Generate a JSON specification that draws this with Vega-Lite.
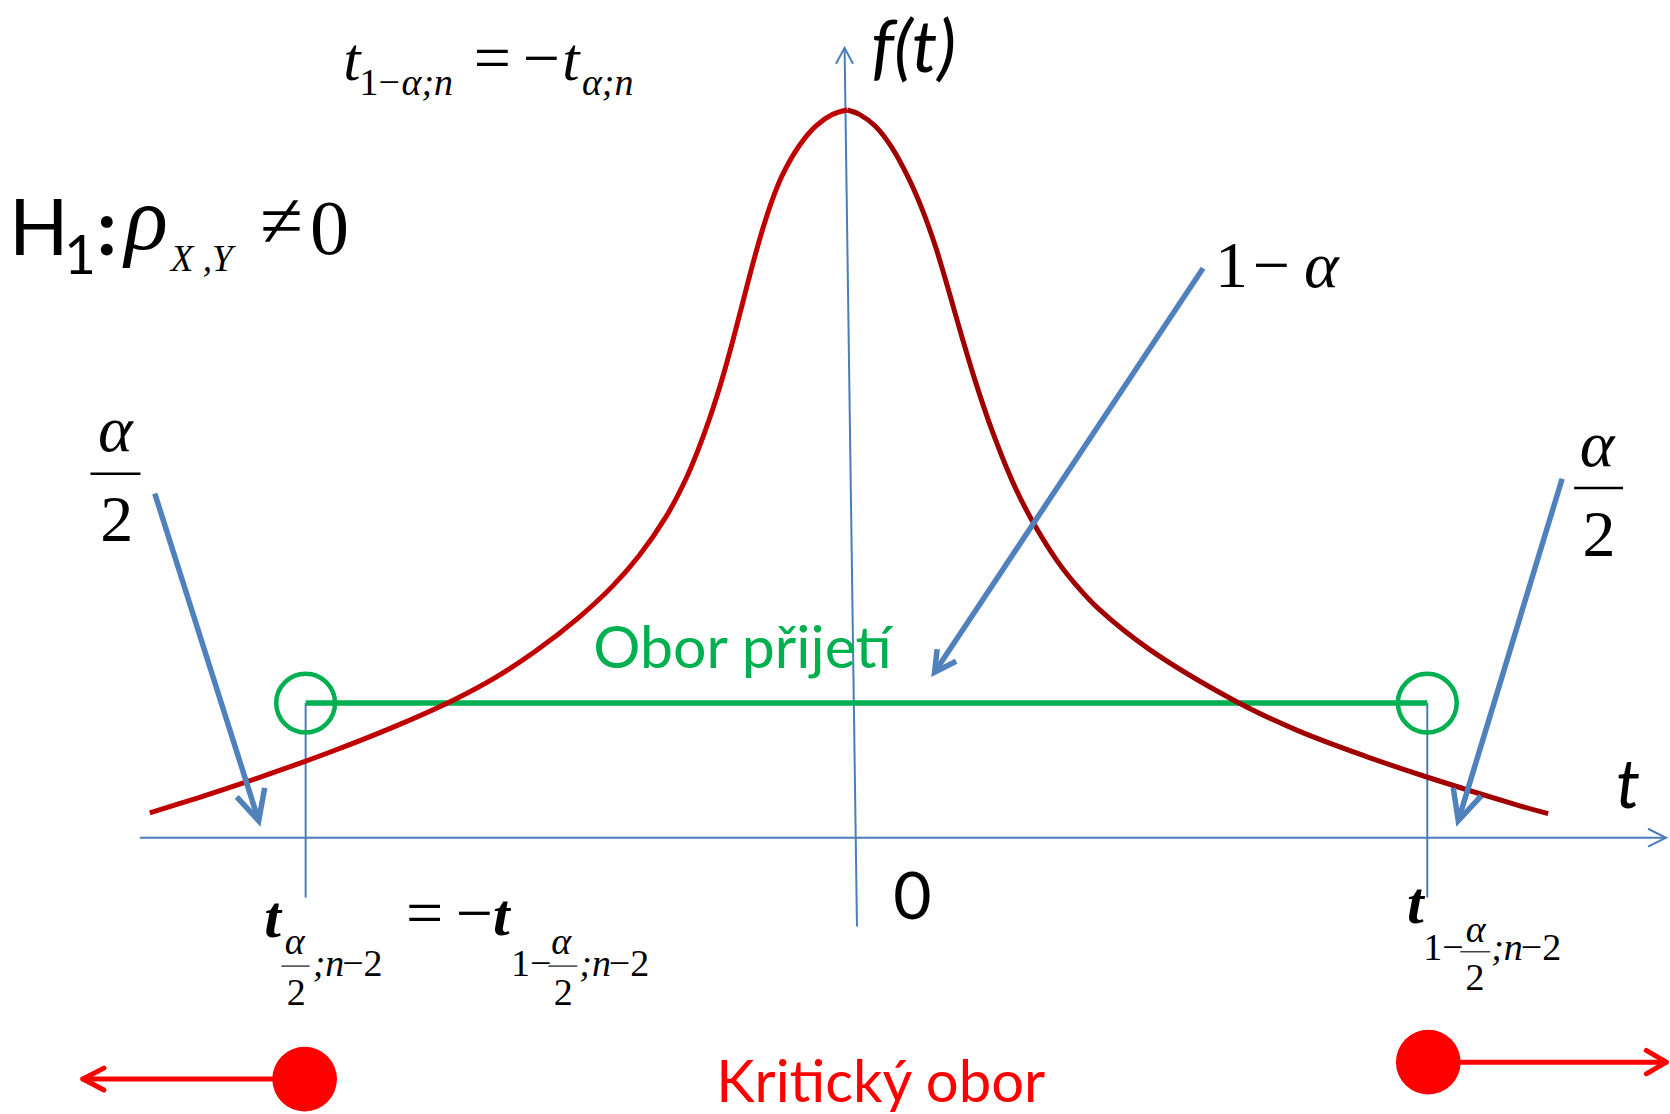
{
  "$schema": "https://vega.github.io/schema/vega-lite/v6.json",
  "width": 1670,
  "height": 1114,
  "autosize": {"type": "fit", "contains": "padding"},
  "padding": 0,
  "background": "white",
  "config": {"view": {"stroke": null}},
  "encoding": {
    "x": {"field": "x", "type": "quantitative", "scale": {"domain": [-8.57, 8.13], "nice": false, "zero": false}, "axis": null},
    "y": {"field": "y", "type": "quantitative", "scale": {"domain": [-2.74, 8.4], "nice": false, "zero": false}, "axis": null}
  },
  "layer": [
    {
      "description": "t and f(t) axes, their arrow heads and the two critical-value drop lines",
      "data": {"values": [
        {"id": "tAxis", "o": 0, "x": -7.17, "y": 0}, {"id": "tAxis", "o": 1, "x": 8.11, "y": 0},
        {"id": "tHead", "o": 0, "x": 7.93, "y": 0.09}, {"id": "tHead", "o": 1, "x": 8.11, "y": 0}, {"id": "tHead", "o": 2, "x": 7.93, "y": -0.09},
        {"id": "fAxis", "o": 0, "x": 0.01, "y": -0.89}, {"id": "fAxis", "o": 1, "x": -0.114, "y": 7.92},
        {"id": "fHead", "o": 0, "x": -0.2, "y": 7.76}, {"id": "fHead", "o": 1, "x": -0.114, "y": 7.92}, {"id": "fHead", "o": 2, "x": -0.03, "y": 7.76},
        {"id": "lowCrit", "o": 0, "x": -5.51, "y": 1.35}, {"id": "lowCrit", "o": 1, "x": -5.51, "y": -0.6},
        {"id": "highCrit", "o": 0, "x": 5.72, "y": 1.35}, {"id": "highCrit", "o": 1, "x": 5.72, "y": -0.6}
      ]},
      "mark": {"type": "line", "color": "#4A7EBB", "strokeWidth": 2},
      "encoding": {"detail": {"field": "id"}, "order": {"field": "o", "type": "quantitative"}}
    },
    {
      "description": "acceptance region",
      "data": {"values": [{"o": 0, "x": -5.51, "y": 1.35}, {"o": 1, "x": 5.72, "y": 1.35}]},
      "mark": {"type": "line", "color": "#00B050", "strokeWidth": 5.5},
      "encoding": {"order": {"field": "o", "type": "quantitative"}}
    },
    {
      "description": "density curve f(t), drawn as two halves meeting at the peak",
      "data": {"values": [
        {"half": "left", "x": -7.07, "y": 0.25}, {"half": "left", "x": -6.603, "y": 0.395}, {"half": "left", "x": -6.103, "y": 0.56},
        {"half": "left", "x": -5.537, "y": 0.758}, {"half": "left", "x": -5.203, "y": 0.882}, {"half": "left", "x": -4.603, "y": 1.122},
        {"half": "left", "x": -4.037, "y": 1.377}, {"half": "left", "x": -3.603, "y": 1.611}, {"half": "left", "x": -3.203, "y": 1.875},
        {"half": "left", "x": -2.77, "y": 2.213}, {"half": "left", "x": -2.437, "y": 2.523}, {"half": "left", "x": -2.17, "y": 2.83},
        {"half": "left", "x": -1.903, "y": 3.217}, {"half": "left", "x": -1.703, "y": 3.597}, {"half": "left", "x": -1.57, "y": 3.917},
        {"half": "left", "x": -1.437, "y": 4.289}, {"half": "left", "x": -1.337, "y": 4.609}, {"half": "left", "x": -1.237, "y": 4.969},
        {"half": "left", "x": -1.137, "y": 5.354}, {"half": "left", "x": -1.037, "y": 5.739}, {"half": "left", "x": -0.937, "y": 6.094},
        {"half": "left", "x": -0.837, "y": 6.399}, {"half": "left", "x": -0.737, "y": 6.644}, {"half": "left", "x": -0.57, "y": 6.936},
        {"half": "left", "x": -0.403, "y": 7.136}, {"half": "left", "x": -0.237, "y": 7.252}, {"half": "left", "x": -0.087, "y": 7.297},
        {"half": "right", "x": -0.087, "y": 7.297}, {"half": "right", "x": 0.03, "y": 7.256}, {"half": "right", "x": 0.197, "y": 7.131},
        {"half": "right", "x": 0.363, "y": 6.915}, {"half": "right", "x": 0.53, "y": 6.606}, {"half": "right", "x": 0.663, "y": 6.3},
        {"half": "right", "x": 0.797, "y": 5.925}, {"half": "right", "x": 0.93, "y": 5.479}, {"half": "right", "x": 1.063, "y": 5.013},
        {"half": "right", "x": 1.197, "y": 4.571}, {"half": "right", "x": 1.363, "y": 4.081}, {"half": "right", "x": 1.563, "y": 3.581},
        {"half": "right", "x": 1.763, "y": 3.181}, {"half": "right", "x": 2.03, "y": 2.754}, {"half": "right", "x": 2.23, "y": 2.504},
        {"half": "right", "x": 2.43, "y": 2.294}, {"half": "right", "x": 2.93, "y": 1.894}, {"half": "right", "x": 3.83, "y": 1.354},
        {"half": "right", "x": 4.43, "y": 1.072}, {"half": "right", "x": 5.097, "y": 0.819}, {"half": "right", "x": 5.73, "y": 0.604},
        {"half": "right", "x": 6.63, "y": 0.325}, {"half": "right", "x": 6.93, "y": 0.241}
      ]},
      "mark": {"type": "line", "strokeWidth": 5, "interpolate": "catmull-rom"},
      "encoding": {
        "color": {"field": "half", "type": "nominal", "scale": {"domain": ["left", "right"], "range": ["#C00000", "#A00000"]}, "legend": null}
      }
    },
    {
      "description": "pointer arrows for the tail areas and the central area",
      "data": {"values": [
        {"id": "L", "o": 0, "x": -7.02, "y": 3.45}, {"id": "L", "o": 1, "x": -5.98, "y": 0.17},
        {"id": "Lh", "o": 0, "x": -6.2, "y": 0.41}, {"id": "Lh", "o": 1, "x": -5.98, "y": 0.17}, {"id": "Lh", "o": 2, "x": -5.92, "y": 0.5},
        {"id": "R", "o": 0, "x": 7.07, "y": 3.6}, {"id": "R", "o": 1, "x": 6.03, "y": 0.17},
        {"id": "Rh", "o": 0, "x": 5.98, "y": 0.5}, {"id": "Rh", "o": 1, "x": 6.03, "y": 0.17}, {"id": "Rh", "o": 2, "x": 6.26, "y": 0.42},
        {"id": "M", "o": 0, "x": 3.475, "y": 5.71}, {"id": "M", "o": 1, "x": 0.787, "y": 1.66},
        {"id": "Mh", "o": 0, "x": 0.813, "y": 1.89}, {"id": "Mh", "o": 1, "x": 0.787, "y": 1.66}, {"id": "Mh", "o": 2, "x": 1.003, "y": 1.77}
      ]},
      "mark": {"type": "line", "color": "#4F81BD", "strokeWidth": 5.5, "strokeJoin": "miter"},
      "encoding": {"detail": {"field": "id"}, "order": {"field": "o", "type": "quantitative"}}
    },
    {
      "description": "critical values on the acceptance region",
      "data": {"values": [{"x": -5.51, "y": 1.35}, {"x": 5.72, "y": 1.35}]},
      "mark": {"type": "point", "shape": "circle", "filled": false, "size": 3460, "strokeWidth": 4.5, "color": "#00B050", "opacity": 1}
    },
    {
      "description": "critical region rays",
      "data": {"values": [
        {"id": "l", "o": 0, "x": -7.74, "y": -2.42}, {"id": "l", "o": 1, "x": -5.52, "y": -2.42},
        {"id": "lh", "o": 0, "x": -7.53, "y": -2.31}, {"id": "lh", "o": 1, "x": -7.74, "y": -2.42}, {"id": "lh", "o": 2, "x": -7.53, "y": -2.53},
        {"id": "r", "o": 0, "x": 5.73, "y": -2.25}, {"id": "r", "o": 1, "x": 8.11, "y": -2.25},
        {"id": "rh", "o": 0, "x": 7.913, "y": -2.133}, {"id": "rh", "o": 1, "x": 8.113, "y": -2.25}, {"id": "rh", "o": 2, "x": 7.913, "y": -2.367}
      ]},
      "mark": {"type": "line", "color": "#FF0000", "strokeWidth": 5, "strokeCap": "round", "strokeJoin": "round"},
      "encoding": {"detail": {"field": "id"}, "order": {"field": "o", "type": "quantitative"}}
    },
    {
      "data": {"values": [{"x": -5.52, "y": -2.42}, {"x": 5.73, "y": -2.25}]},
      "mark": {"type": "point", "shape": "circle", "filled": true, "size": 4186, "color": "#FF0000", "opacity": 1}
    },
    {
      "description": "fraction bars of alpha/2",
      "data": {"values": [
        {"id": "a", "x": -7.664, "y": 3.65}, {"id": "a", "x": -7.164, "y": 3.65},
        {"id": "b", "x": 7.19, "y": 3.507}, {"id": "b", "x": 7.68, "y": 3.507}
      ]},
      "mark": {"type": "line", "color": "#000000", "strokeWidth": 2.5},
      "encoding": {"detail": {"field": "id"}}
    },
    {
      "data": {"values": [
        {"id": "a", "x": -5.753, "y": -1.287}, {"id": "a", "x": -5.47, "y": -1.287},
        {"id": "b", "x": -3.08, "y": -1.287}, {"id": "b", "x": -2.79, "y": -1.287},
        {"id": "c", "x": 6.05, "y": -1.143}, {"id": "c", "x": 6.35, "y": -1.143}
      ]},
      "mark": {"type": "line", "color": "#404040", "strokeWidth": 1.5},
      "encoding": {"detail": {"field": "id"}}
    },
    {
      "data": {"values": [{"x": -5.133, "y": 7.6, "s": "t"}, {"x": -2.94, "y": 7.6, "s": "t"}]},
      "mark": {"type": "text", "font": "Liberation Serif", "fontStyle": "italic", "fontSize": 62, "align": "left", "baseline": "alphabetic", "color": "#000"},
      "encoding": {"text": {"field": "s"}}
    },
    {
      "data": {"values": [
        {"x": -3.64, "y": 7.6, "s": "="}, {"x": -3.15, "y": 7.6, "s": "−"},
        {"x": -4.32, "y": -0.98, "s": "="}, {"x": -3.82, "y": -0.98, "s": "−"}
      ]},
      "mark": {"type": "text", "font": "Liberation Serif", "fontSize": 66, "align": "center", "baseline": "alphabetic", "color": "#000"},
      "encoding": {"text": {"field": "s"}}
    },
    {
      "data": {"values": [{"x": -5.84, "y": -1.0, "s": "t"}, {"x": -3.55, "y": -0.98, "s": "t"}, {"x": 5.6, "y": -0.85, "s": "t"}]},
      "mark": {"type": "text", "font": "Liberation Serif", "fontStyle": "italic", "fontWeight": "bold", "fontSize": 60, "align": "center", "baseline": "alphabetic", "color": "#000"},
      "encoding": {"text": {"field": "s"}}
    },
    {
      "data": {"values": [{"x": -4.97, "y": 7.45, "s": "1−"}]},
      "mark": {"type": "text", "font": "Liberation Serif", "fontSize": 38, "align": "left", "baseline": "alphabetic", "color": "#000"},
      "encoding": {"text": {"field": "s"}}
    },
    {
      "data": {"values": [{"x": -4.55, "y": 7.45, "s": "α;n"}, {"x": -2.744, "y": 7.45, "s": "α;n"}]},
      "mark": {"type": "text", "font": "Liberation Serif", "fontStyle": "italic", "fontSize": 38, "align": "left", "baseline": "alphabetic", "color": "#000"},
      "encoding": {"text": {"field": "s"}}
    },
    {
      "data": {"values": [
        {"x": 3.76, "y": 5.52, "s": "1"}, {"x": 4.16, "y": 5.52, "s": "−"},
        {"x": -7.4, "y": 2.98, "s": "2"}, {"x": 7.44, "y": 2.83, "s": "2"}
      ]},
      "mark": {"type": "text", "font": "Liberation Serif", "fontSize": 66, "align": "center", "baseline": "alphabetic", "color": "#000"},
      "encoding": {"text": {"field": "s"}}
    },
    {
      "data": {"values": [{"x": 4.66, "y": 5.52, "s": "α"}, {"x": -7.415, "y": 3.88, "s": "α"}, {"x": 7.42, "y": 3.73, "s": "α"}]},
      "mark": {"type": "text", "font": "Liberation Serif", "fontStyle": "italic", "fontSize": 66, "align": "center", "baseline": "alphabetic", "color": "#000"},
      "encoding": {"text": {"field": "s"}}
    },
    {
      "data": {"values": [{"x": -7.32, "y": 5.9, "s": "ρ"}]},
      "mark": {"type": "text", "font": "Liberation Serif", "fontStyle": "italic", "fontSize": 90, "align": "left", "baseline": "alphabetic", "color": "#000"},
      "encoding": {"text": {"field": "s"}}
    },
    {
      "data": {"values": [{"x": -6.86, "y": 5.68, "s": "X ,Y"}]},
      "mark": {"type": "text", "font": "Liberation Serif", "fontStyle": "italic", "fontSize": 37, "align": "left", "baseline": "alphabetic", "color": "#000"},
      "encoding": {"text": {"field": "s"}}
    },
    {
      "data": {"values": [{"x": -5.75, "y": 5.92, "s": "≠"}, {"x": -5.27, "y": 5.85, "s": "0"}]},
      "mark": {"type": "text", "font": "Liberation Serif", "fontSize": 78, "align": "center", "baseline": "alphabetic", "color": "#000"},
      "encoding": {"text": {"field": "s"}}
    },
    {
      "data": {"values": [{"x": -5.62, "y": -1.17, "s": "α"}, {"x": -2.95, "y": -1.17, "s": "α"}, {"x": 6.205, "y": -1.05, "s": "α"}]},
      "mark": {"type": "text", "font": "Liberation Serif", "fontStyle": "italic", "fontSize": 38, "align": "center", "baseline": "alphabetic", "color": "#000"},
      "encoding": {"text": {"field": "s"}}
    },
    {
      "data": {"values": [{"x": -5.605, "y": -1.68, "s": "2"}, {"x": -2.93, "y": -1.68, "s": "2"}, {"x": 6.197, "y": -1.53, "s": "2"}]},
      "mark": {"type": "text", "font": "Liberation Serif", "fontSize": 38, "align": "center", "baseline": "alphabetic", "color": "#000"},
      "encoding": {"text": {"field": "s"}}
    },
    {
      "data": {"values": [{"x": -5.44, "y": -1.39, "s": ";n"}, {"x": -2.77, "y": -1.39, "s": ";n"}, {"x": 6.36, "y": -1.23, "s": ";n"}]},
      "mark": {"type": "text", "font": "Liberation Serif", "fontStyle": "italic", "fontSize": 38, "align": "left", "baseline": "alphabetic", "color": "#000"},
      "encoding": {"text": {"field": "s"}}
    },
    {
      "data": {"values": [
        {"x": -5.144, "y": -1.39, "s": "−2"}, {"x": -2.474, "y": -1.39, "s": "−2"}, {"x": 6.656, "y": -1.23, "s": "−2"},
        {"x": -3.453, "y": -1.39, "s": "1−"}, {"x": 5.68, "y": -1.23, "s": "1−"}
      ]},
      "mark": {"type": "text", "font": "Liberation Serif", "fontSize": 38, "align": "left", "baseline": "alphabetic", "color": "#000"},
      "encoding": {"text": {"field": "s"}}
    },
    {
      "data": {"values": [{"x": -8.48, "y": 5.84, "s": "H"}]},
      "mark": {"type": "text", "font": "Lato", "fontSize": 78, "align": "left", "baseline": "alphabetic", "color": "#000"},
      "encoding": {"text": {"field": "s"}}
    },
    {
      "data": {"values": [{"x": -7.5, "y": 5.84, "s": ":"}]},
      "mark": {"type": "text", "font": "Lato", "fontWeight": "bold", "fontSize": 78, "align": "center", "baseline": "alphabetic", "color": "#000"},
      "encoding": {"text": {"field": "s"}}
    },
    {
      "data": {"values": [{"x": -7.93, "y": 5.65, "s": "1"}]},
      "mark": {"type": "text", "font": "Lato", "fontSize": 55, "align": "left", "baseline": "alphabetic", "color": "#000"},
      "encoding": {"text": {"field": "s"}}
    },
    {
      "data": {"values": [{"x": 0.15, "y": 7.68, "s": "f(t)"}]},
      "mark": {"type": "text", "font": "Lato", "fontStyle": "italic", "fontSize": 72, "align": "left", "baseline": "alphabetic", "color": "#000"},
      "encoding": {"text": {"field": "s"}}
    },
    {
      "data": {"values": [{"x": 7.61, "y": 0.3, "s": "t"}]},
      "mark": {"type": "text", "font": "Lato", "fontStyle": "italic", "fontSize": 68, "align": "left", "baseline": "alphabetic", "color": "#000"},
      "encoding": {"text": {"field": "s"}}
    },
    {
      "data": {"values": [{"x": 0.565, "y": -0.81, "s": "0"}]},
      "mark": {"type": "text", "font": "Lato", "fontSize": 66, "align": "center", "baseline": "alphabetic", "color": "#000"},
      "encoding": {"text": {"field": "s"}}
    },
    {
      "data": {"values": [{"x": -2.63, "y": 1.7, "s": "Obor přijetí"}]},
      "mark": {"type": "text", "font": "Lato", "fontSize": 59, "align": "left", "baseline": "alphabetic", "color": "#00B050"},
      "encoding": {"text": {"field": "s"}}
    },
    {
      "data": {"values": [{"x": -1.4, "y": -2.65, "s": "Kritický obor"}]},
      "mark": {"type": "text", "font": "Lato", "fontSize": 58, "align": "left", "baseline": "alphabetic", "color": "#FF0000"},
      "encoding": {"text": {"field": "s"}}
    }
  ]
}
